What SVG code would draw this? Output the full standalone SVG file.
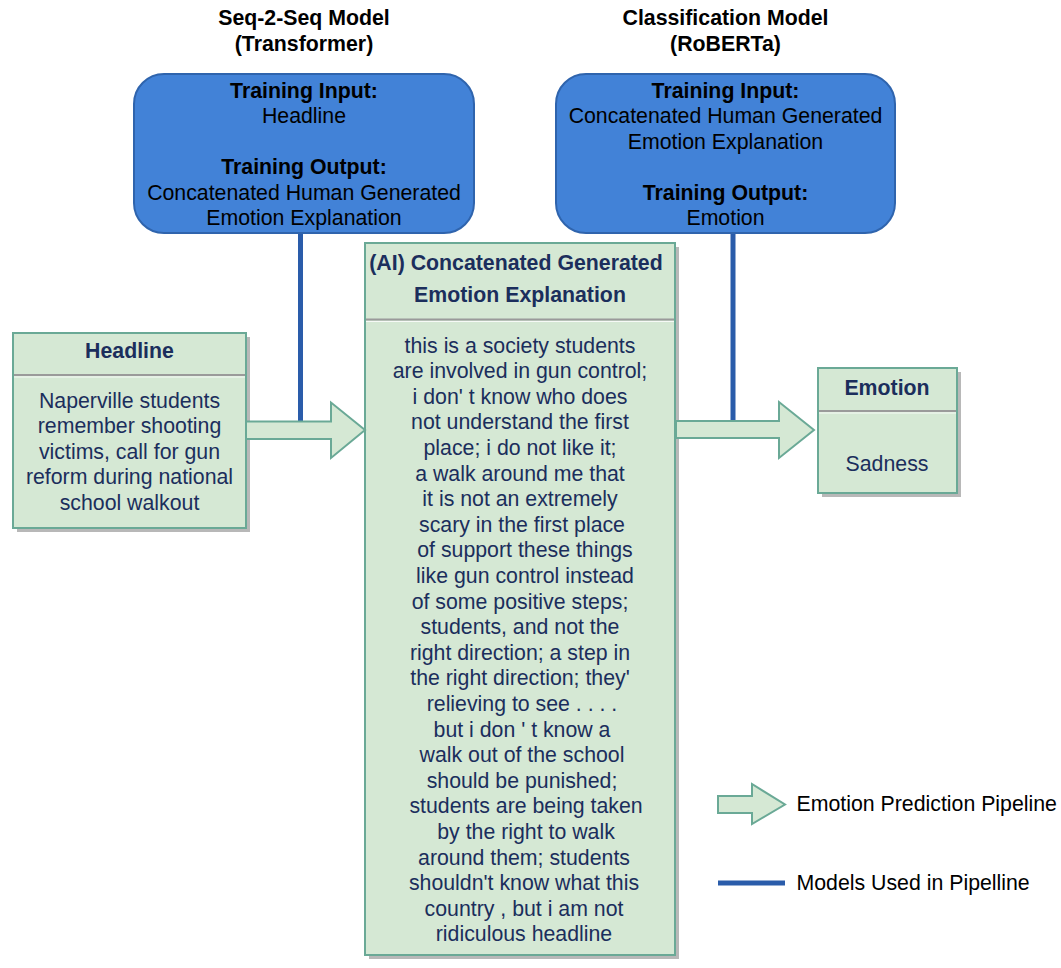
<svg xmlns="http://www.w3.org/2000/svg" width="1061" height="968" viewBox="0 0 1061 968">
<style>
.t{font-family:"Liberation Sans",Arial,sans-serif;font-size:21.3px;text-anchor:middle}
.b{font-weight:bold}
.k{fill:#000}
.n{fill:#1b2e5c}
.lg{font-family:"Liberation Sans",Arial,sans-serif;font-size:21.3px;fill:#000}
.box{fill:#d5e8d4;stroke:#6aa996;stroke-width:2}
.sh{fill:#b8b8b8}
.div{stroke:#9a9a9a;stroke-width:2}
.divw{stroke:#ffffff;stroke-width:1;opacity:0.8}
.blue{fill:#4282d7;stroke:#2f64ad;stroke-width:2}
.model{stroke:#2a5caa;stroke-width:5;fill:none}
.arr{fill:#d5e8d4;stroke:#6aa996;stroke-width:2;stroke-linejoin:miter}
</style>
<rect width="1061" height="968" fill="#ffffff"/>

<g id="title-seq2seq">
<text class="t b k" x="304" y="25">Seq-2-Seq Model</text>
<text class="t b k" x="304" y="50.5">(Transformer)</text>
</g>
<g id="title-classification">
<text class="t b k" x="725.5" y="25">Classification Model</text>
<text class="t b k" x="725.5" y="50.5">(RoBERTa)</text>
</g>

<g id="connectors">
<line class="model" x1="300.5" y1="233" x2="300.5" y2="421"/>
<line class="model" x1="733" y1="233" x2="733" y2="421"/>
</g>

<g id="seq2seq-model">
<rect class="blue" x="134" y="74" width="340" height="159" rx="30" ry="30"/>
<text class="t b k" x="304" y="97.5">Training Input:</text>
<text class="t k" x="304" y="123">Headline</text>
<text class="t b k" x="304" y="174.2">Training Output:</text>
<text class="t k" x="304" y="199.8">Concatenated Human Generated</text>
<text class="t k" x="304" y="225.4">Emotion Explanation</text>
</g>

<g id="classification-model">
<rect class="blue" x="556" y="74" width="339" height="159" rx="30" ry="30"/>
<text class="t b k" x="725.5" y="97.5">Training Input:</text>
<text class="t k" x="725.5" y="123">Concatenated Human Generated</text>
<text class="t k" x="725.5" y="148.6">Emotion Explanation</text>
<text class="t b k" x="725.5" y="199.8">Training Output:</text>
<text class="t k" x="725.5" y="225.4">Emotion</text>
</g>

<g id="headline">
<rect class="sh" x="17" y="337" width="233" height="195"/>
<rect class="box" x="13" y="333" width="233" height="195"/>
<line class="div" x1="14" y1="375" x2="245" y2="375"/>
<line class="divw" x1="14" y1="377" x2="245" y2="377"/>
<text class="t b n" x="129.5" y="358">Headline</text>
<text class="t n" x="129.5" y="407.5">Naperville students</text>
<text class="t n" x="129.5" y="433.1">remember shooting</text>
<text class="t n" x="129.5" y="458.7">victims, call for gun</text>
<text class="t n" x="129.5" y="484.3">reform during national</text>
<text class="t n" x="129.5" y="509.9">school walkout</text>
</g>

<g id="generated-explanation">
<rect class="sh" x="369" y="247" width="310" height="712"/>
<rect class="box" x="365" y="243" width="310" height="712"/>
<line class="div" x1="366" y1="319.5" x2="674" y2="319.5"/>
<line class="divw" x1="366" y1="321.5" x2="674" y2="321.5"/>
<text class="t b n" x="516" y="269.5">(AI) Concatenated Generated</text>
<text class="t b n" x="520" y="301.5">Emotion Explanation</text>
<text class="t n" x="520" y="352.5">this is a society students</text>
<text class="t n" x="520" y="378.1">are involved in gun control;</text>
<text class="t n" x="520" y="403.7">i don' t know who does</text>
<text class="t n" x="520" y="429.3">not understand the first</text>
<text class="t n" x="520" y="454.9">place; i do not like it;</text>
<text class="t n" x="520" y="480.5">a walk around me that</text>
<text class="t n" x="520" y="506.1">it is not an extremely</text>
<text class="t n" x="522" y="531.7">scary in the first place</text>
<text class="t n" x="525" y="557.3">of support these things</text>
<text class="t n" x="525" y="582.9">like gun control instead</text>
<text class="t n" x="520" y="608.5">of some positive steps;</text>
<text class="t n" x="520" y="634.1">students, and not the</text>
<text class="t n" x="520" y="659.7">right direction; a step in</text>
<text class="t n" x="520" y="685.3">the right direction; they'</text>
<text class="t n" x="522" y="710.9">relieving to see . . . .</text>
<text class="t n" x="522" y="736.5">but i don ' t know a</text>
<text class="t n" x="522" y="762.1">walk out of the school</text>
<text class="t n" x="522" y="787.7">should be punished;</text>
<text class="t n" x="526" y="813.3">students are being taken</text>
<text class="t n" x="526" y="838.9">by the right to walk</text>
<text class="t n" x="524" y="864.5">around them; students</text>
<text class="t n" x="524" y="890.1">shouldn't know what this</text>
<text class="t n" x="524" y="915.7">country , but i am not</text>
<text class="t n" x="524" y="941.3">ridiculous headline</text>
</g>

<g id="emotion">
<rect class="sh" x="822" y="372" width="139" height="125"/>
<rect class="box" x="818" y="368" width="139" height="125"/>
<line class="div" x1="819" y1="411" x2="956" y2="411"/>
<line class="divw" x1="819" y1="413" x2="956" y2="413"/>
<text class="t b n" x="887" y="394.5">Emotion</text>
<text class="t n" x="887" y="470.5">Sadness</text>
</g>

<g id="pipeline-arrows">
<polygon class="arr" points="246,421.5 331,421.5 331,402.5 365,430 331,458 331,439 246,439"/>
<polygon class="arr" points="676,421 779,421 779,402 814,430 779,458 779,438 676,438"/>
</g>

<g id="legend">
<polygon class="arr" points="718,796 752,796 752,784 785,804.5 752,824 752,813 718,813"/>
<text class="lg" x="796.5" y="811">Emotion Prediction Pipeline</text>
<line class="model" x1="718" y1="883" x2="785" y2="883"/>
<text class="lg" x="796.5" y="889.5">Models Used in Pipelline</text>
</g>
</svg>
